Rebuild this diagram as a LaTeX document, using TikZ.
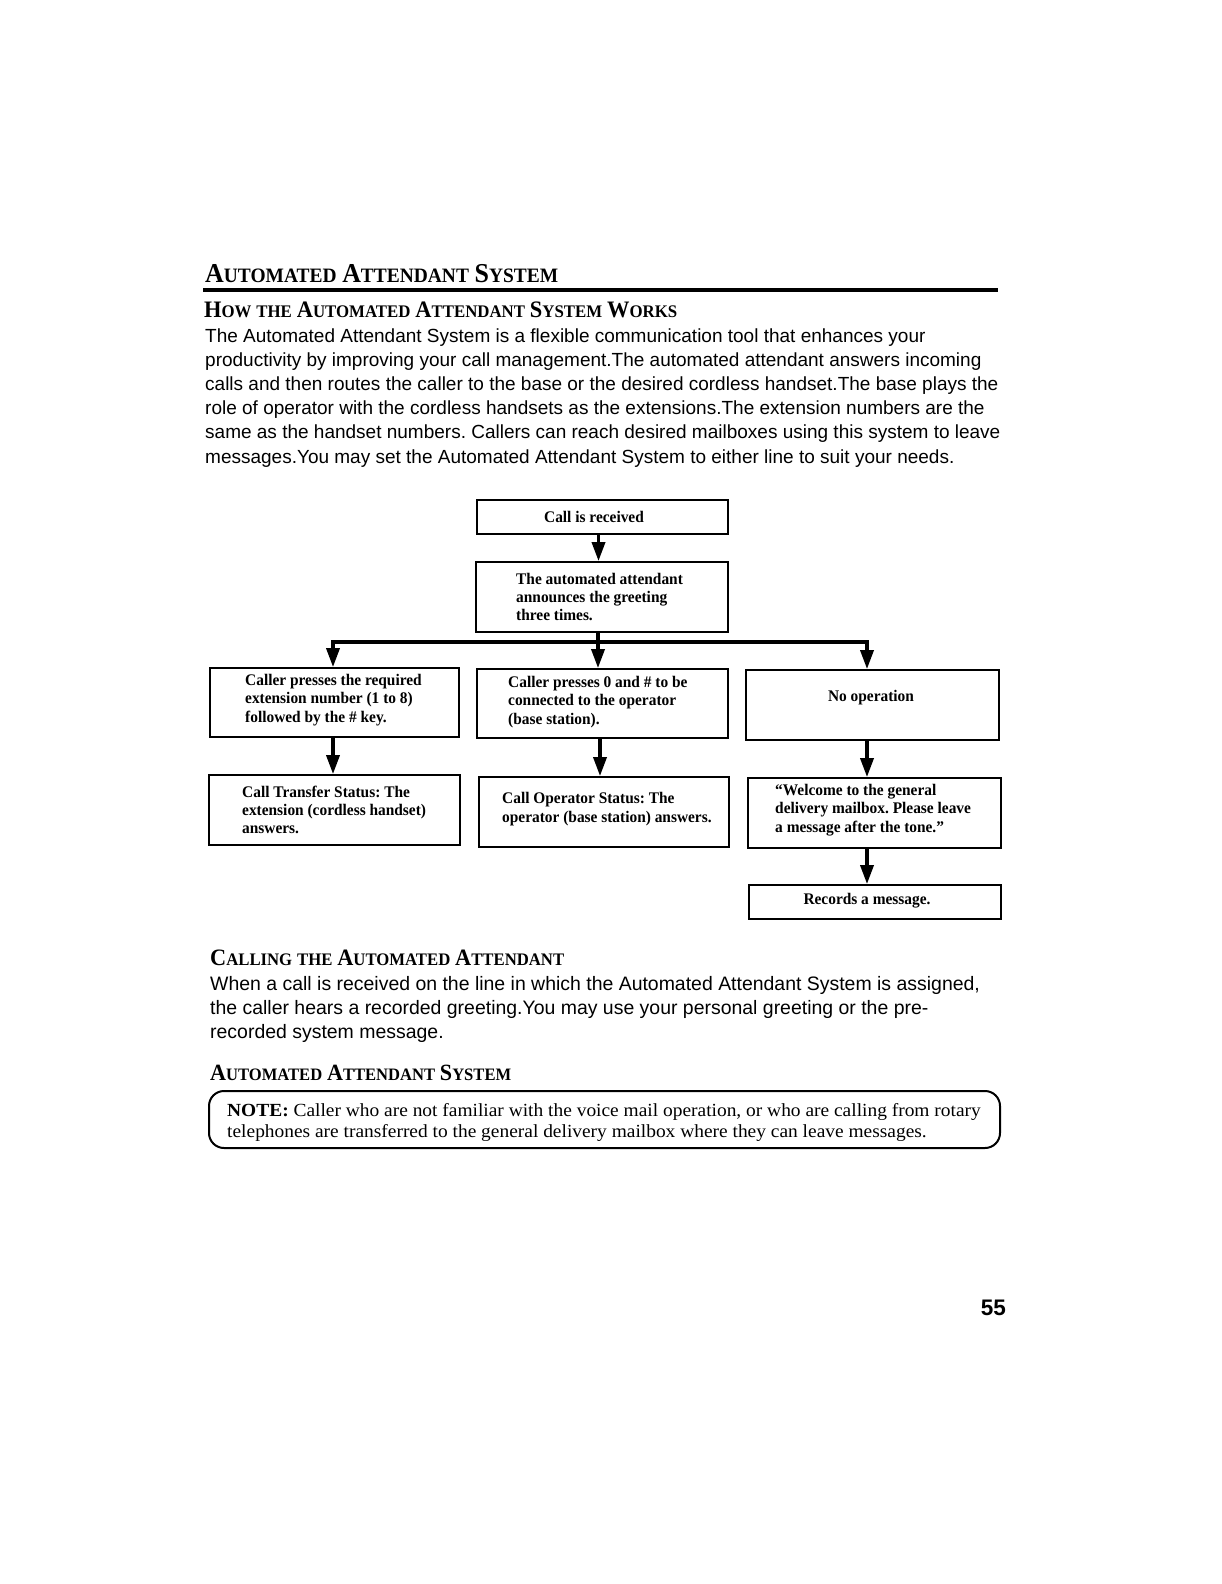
\documentclass[tikz,border=0pt]{standalone}
\usepackage{fontspec}
\usepackage{graphicx}
\usetikzlibrary{arrows.meta,calc}
\setmainfont{Liberation Serif}
\newfontfamily\bodyfont{Liberation Sans}
\newfontfamily\numfont{Liberation Sans}
\newfontfamily\boxfont[FakeStretch=0.95]{Liberation Serif}
\newfontfamily\headfont[FakeStretch=0.95]{Liberation Serif}
\newfontfamily\notefont[FakeStretch=1.05]{Liberation Serif}
\newcommand\SCw[2]{{\fontsize{24}{24}\selectfont #1}{\fontsize{18}{18}\selectfont #2}}
\newcommand\hsp{\hspace{5pt}}
\frenchspacing
\tikzset{
  txt/.style={inner sep=0pt, anchor=base west},
  bodyline/.style={txt, font=\bodyfont\fontsize{19}{24}\selectfont},
  bodylinetwo/.style={txt, font=\bodyfont\fontsize{19.45}{24}\selectfont},
  heading/.style={txt, font=\headfont\bfseries},
  box/.style={draw=black, line width=1.8pt, inner sep=0pt},
  boxtext/.style={inner sep=0pt, align=left, font=\boxfont\bfseries\fontsize{16.2}{18.2}\selectfont},
  conn/.style={line width=3.5pt},
  arr/.style={line width=3.5pt, -{Triangle[length=19pt,width=13pt]}},
  notetext/.style={inner sep=0pt, align=left, font=\notefont\fontsize{18.5}{21}\selectfont},
}
\begin{document}
\begin{tikzpicture}[x=1pt,y=1pt]
\useasboundingbox[fill=white] (0,0) rectangle (1221,-1584);

% ---- title and rule
\node[heading] (h1) at (205,-282) {\resizebox{353pt}{!}{\SCw{A}{UTOMATED}\hsp\SCw{A}{TTENDANT}\hsp\SCw{S}{YSTEM}}};
\coordinate (r1) at (203,-290);
\coordinate (r2) at (998,-290);
\draw[line width=3.5pt] (r1) -- (r2);
\node[heading] (h2) at (204,-317) {\resizebox{473pt}{!}{\SCw{H}{OW}\hsp\SCw{}{THE}\hsp\SCw{A}{UTOMATED}\hsp\SCw{A}{TTENDANT}\hsp\SCw{S}{YSTEM}\hsp\SCw{W}{ORKS}}};

% ---- paragraph 1
\node[bodyline] (p1) at (205,-342) {The Automated Attendant System is a flexible communication tool that enhances your};
\node[bodyline] (p2) at (205,-366.2) {productivity by improving your call management.The automated attendant answers incoming};
\node[bodyline] (p3) at (205,-390.4) {calls and then routes the caller to the base or the desired cordless handset.The base plays the};
\node[bodyline] (p4) at (205,-414.6) {role of operator with the cordless handsets as the extensions.The extension numbers are the};
\node[bodyline] (p5) at (205,-438.8) {same as the handset numbers. Callers can reach desired mailboxes using this system to leave};
\node[bodyline] (p6) at (205,-463) {messages.You may set the Automated Attendant System to either line to suit your needs.};

% ---- flowchart boxes
\node[box, minimum width=251pt, minimum height=34pt] (b1) at (602.5,-517) {};
\node[box, minimum width=252pt, minimum height=70pt] (b2) at (602,-597) {};
\node[box, minimum width=249pt, minimum height=69pt] (b3) at (334.5,-702.5) {};
\node[box, minimum width=251pt, minimum height=69pt] (b4) at (602.5,-703.5) {};
\node[box, minimum width=253pt, minimum height=70pt] (b5) at (872.5,-705) {};
\node[box, minimum width=251pt, minimum height=70pt] (b6) at (334.5,-810) {};
\node[box, minimum width=250pt, minimum height=70pt] (b7) at (604,-812) {};
\node[box, minimum width=253pt, minimum height=70pt] (b8) at (874.5,-813) {};
\node[box, minimum width=252pt, minimum height=34pt] (b9) at (875,-902) {};

\node[boxtext, anchor=center] (t1) at (594,-517) {Call is received};
\node[boxtext, anchor=west] (t2) at (516,-597) {The automated attendant\\announces the greeting\\three times.};
\node[boxtext, anchor=west] (t3) at (245,-700) {Caller presses the required\\extension number (1 to 8)\\followed by the \# key.};
\node[boxtext, anchor=west] (t4) at (508,-702) {Caller presses 0 and \# to be\\connected to the operator\\(base station).};
\node[boxtext, anchor=center] (t5) at (871,-698) {No operation};
\node[boxtext, anchor=west] (t6) at (242,-810) {Call Transfer Status: The\\extension (cordless handset)\\answers.};
\node[boxtext, anchor=west] (t7) at (502,-809) {Call Operator Status: The\\operator (base station) answers.};
\node[boxtext, anchor=west] (t8) at (775,-810) {“Welcome to the general\\delivery mailbox. Please leave\\a message after the tone.”};
\node[boxtext, anchor=center] (t9) at (867,-901) {Records a message.};

% ---- connectors
\draw[arr] ([xshift=-4pt]b1.south) -- ([xshift=-4pt]b1.south |- b2.north);
\coordinate (j) at (598,-642);
\coordinate (jl) at (333,-642);
\coordinate (jr) at (867,-642);
\draw[conn] ([xshift=-4pt]b2.south) -- ([xshift=-4pt]b2.south |- j);
\draw[conn] ([xshift=-1.75pt]jl) -- ([xshift=1.75pt]jr);
\draw[arr] (jl) -- (jl |- b3.north);
\draw[arr] (j) -- (j |- b4.north);
\draw[arr] (jr) -- (jr |- b5.north);
\draw[arr] ([xshift=-1.5pt]b3.south) -- ([xshift=-1.5pt]b3.south |- b6.north);
\draw[arr] ([xshift=-2.5pt]b4.south) -- ([xshift=-2.5pt]b4.south |- b7.north);
\draw[arr] ([xshift=-5.5pt]b5.south) -- ([xshift=-5.5pt]b5.south |- b8.north);
\draw[arr] ([xshift=-7.5pt]b8.south) -- ([xshift=-7.5pt]b8.south |- b9.north);

% ---- second section
\node[heading] (h3) at (210,-965) {\resizebox{354pt}{!}{\SCw{C}{ALLING}\hsp\SCw{}{THE}\hsp\SCw{A}{UTOMATED}\hsp\SCw{A}{TTENDANT}}};
\node[bodylinetwo] (q1) at (210,-990) {When a call is received on the line in which the Automated Attendant System is assigned,};
\node[bodylinetwo] (q2) at (210,-1014.2) {the caller hears a recorded greeting.You may use your personal greeting or the pre-};
\node[bodylinetwo] (q3) at (210,-1038.4) {recorded system message.};
\node[heading] (h4) at (210,-1080) {\resizebox{301pt}{!}{\SCw{A}{UTOMATED}\hsp\SCw{A}{TTENDANT}\hsp\SCw{S}{YSTEM}}};

% ---- note
\node[draw=black, line width=2pt, rounded corners=15pt, minimum width=791pt, minimum height=57pt, inner sep=0pt] (note) at (604.5,-1119.5) {};
\node[notetext, anchor=west] (nt) at (227,-1122) {\textbf{NOTE:} Caller who are not familiar with the voice mail operation, or who are calling from rotary\\telephones are transferred to the general delivery mailbox where they can leave messages.};

% ---- page number
\node[inner sep=0pt, anchor=base east, font=\numfont\bfseries\fontsize{22.5}{22.5}\selectfont] (pg) at (1006,-1315) {55};
\end{tikzpicture}
\end{document}
